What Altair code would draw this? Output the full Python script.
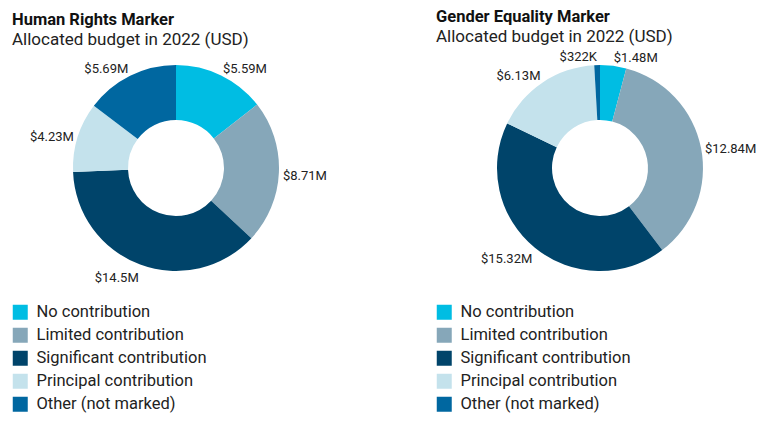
import altair as alt
import pandas as pd

categories = ["No contribution", "Limited contribution", "Significant contribution",
              "Principal contribution", "Other (not marked)"]
colors = ["#00bde3", "#86a7b9", "#00446a", "#c4e2ec", "#0067a0"]

hr_values = [5.59, 8.71, 14.5, 4.23, 5.69]
hr_labels = ["$5.59M", "$8.71M", "$14.5M", "$4.23M", "$5.69M"]

ge_values = [1.48, 12.84, 15.32, 6.13, 0.322]
ge_labels = ["$1.48M", "$12.84M", "$15.32M", "$6.13M", "$322K"]

CX, CY, R_OUT, R_IN = 164, 114, 103, 48
FONT = "Roboto"


def panel(values, labels, title, width):
    df = pd.DataFrame({"category": categories, "value": values,
                       "label": labels, "idx": list(range(len(categories)))})
    base = alt.Chart(df)
    arc = base.mark_arc(outerRadius=R_OUT, innerRadius=R_IN).encode(
        theta=alt.Theta("value:Q", stack=True),
        color=alt.Color(
            "category:N",
            scale=alt.Scale(domain=categories, range=colors),
            legend=alt.Legend(orient="none", legendX=0, legendY=250, title=None,
                              symbolType="square", symbolSize=225, symbolStrokeWidth=0,
                              symbolOpacity=1, labelFontSize=16.5, labelFont=FONT,
                              labelColor="#222222", labelOffset=8, rowPadding=6,
                              labelLimit=400),
        ),
        order=alt.Order("idx:Q"),
        x=alt.value(CX),
        y=alt.value(CY),
    )
    lab = base.transform_joinaggregate(total="sum(value)").transform_window(
        cum="sum(value)", sort=[alt.SortField("idx")], frame=[None, 0]
    ).transform_calculate(
        mid="(datum.cum - datum.value/2)/datum.total*2*PI",
        lx=f"{CX}+{R_OUT + 4}*sin(datum.mid)",
        ly=f"{CY + 3}-{R_OUT + 11}*cos(datum.mid)",
    )
    enc = dict(x=alt.X("lx:Q", scale=None, axis=None),
               y=alt.Y("ly:Q", scale=None, axis=None),
               text="label:N")
    right = lab.transform_filter("sin(datum.mid) >= 0").mark_text(
        align="left", baseline="middle", fontSize=13, font=FONT, color="#222222"
    ).encode(**enc)
    left = lab.transform_filter("sin(datum.mid) < 0").mark_text(
        align="right", baseline="middle", fontSize=13, font=FONT, color="#222222"
    ).encode(**enc)
    return alt.layer(arc, right, left).properties(
        width=width, height=365,
        title=alt.TitleParams(text=title, subtitle="Allocated budget in 2022 (USD)",
                              anchor="start", frame="group", font=FONT,
                              subtitleFont=FONT, fontSize=16.5, subtitleFontSize=17,
                              fontWeight="bold", color="#111111",
                              subtitleColor="#222222", subtitlePadding=4, offset=6),
    )


p1 = panel(hr_values, hr_labels, "Human Rights Marker", 360)
p2 = panel(ge_values, ge_labels, "Gender Equality Marker", 300)

chart = alt.hconcat(p1, p2, spacing=64).resolve_scale(color="independent").configure_view(
    stroke=None
).properties(padding={"left": 4, "top": 0, "right": 0, "bottom": 0})

chart.save("out.html", embed_options={"renderer": "svg", "actions": False})
